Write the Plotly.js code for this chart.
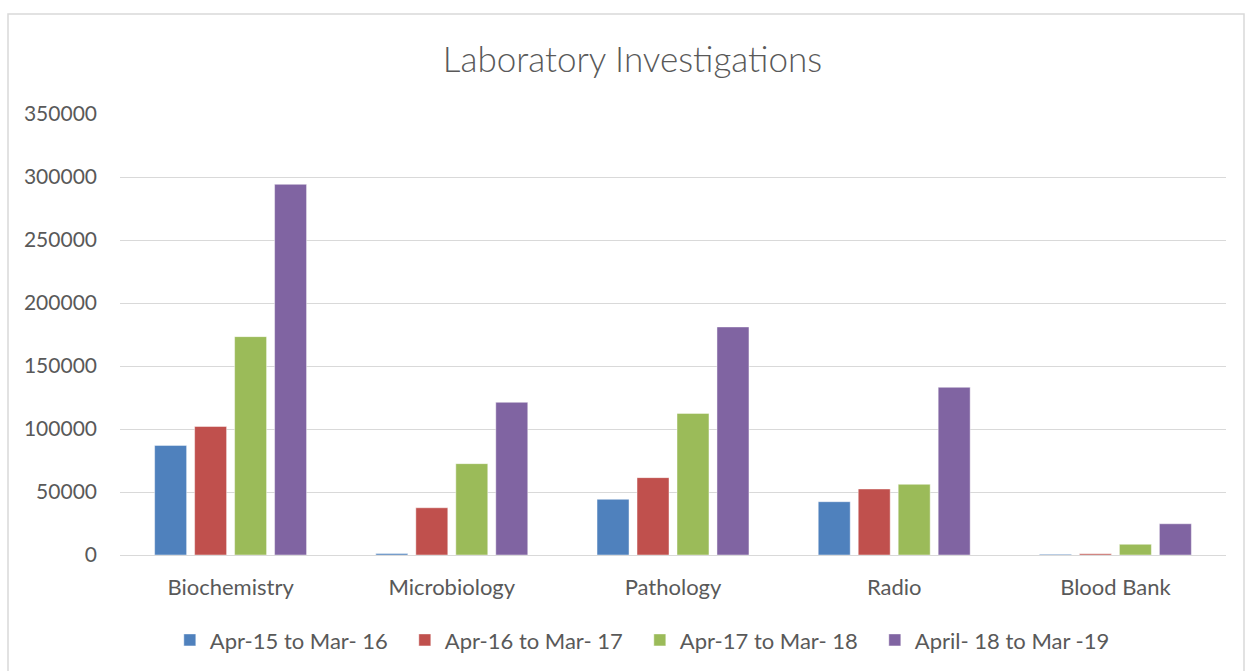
<!DOCTYPE html>
<html>
<head>
<meta charset="utf-8">
<script src="https://cdn.plot.ly/plotly-3.0.1.min.js"></script>
<style>
html,body{margin:0;padding:0;background:#fff;}
#chart{width:1245px;height:671px;}
</style>
</head>
<body>
<div id="chart"></div>
<script>
const categories = ["Biochemistry", "Microbiology", "Pathology", "Radio", "Blood Bank"];
const seriesNames = ["Apr-15 to Mar- 16", "Apr-16 to Mar- 17", "Apr-17 to Mar- 18", "April- 18 to Mar -19"];
const apr15 = [87000, 1200, 44200, 42300, 600];
const apr16 = [102000, 37500, 61400, 52400, 1000];
const apr17 = [173300, 72500, 112400, 56100, 8500];
const apr18 = [294200, 121200, 181000, 133100, 24800];
const seriesValues = [apr15, apr16, apr17, apr18];
const colors = ["#4F81BD", "#C0504D", "#9BBB59", "#8064A2"];
const yTicks = [0, 50000, 100000, 150000, 200000, 250000, 300000, 350000];

const FONT = "Lato, 'Open Sans', sans-serif";
const traces = seriesValues.map((vals, i) => ({
  type: "bar",
  name: seriesNames[i],
  x: categories,
  y: vals,
  marker: {color: colors[i], line: {color: "rgba(255,255,255,0.45)", width: 1}},
  hoverinfo: "x+y+name"
}));

const layout = {
  width: 1245,
  height: 671,
  margin: {l: 120, r: 19, t: 114, b: 116, autoexpand: false},
  paper_bgcolor: "#ffffff",
  plot_bgcolor: "#ffffff",
  font: {family: FONT, color: "#595959", size: 21},
  title: {
    text: "Laboratory Investigations",
    font: {family: FONT, size: 35, color: "#595959", weight: 300},
    x: 0.508, xanchor: "center",
    y: 0.911, yanchor: "middle"
  },
  barmode: "group",
  bargap: 0.277,
  bargroupgap: 0.2,
  xaxis: {
    type: "category",
    automargin: false,
    showgrid: false,
    showline: false,
    zeroline: false,
    ticks: "",
    tickfont: {family: FONT, size: 22, color: "#595959"},
    ticklabelstandoff: 17
  },
  yaxis: {
    automargin: false,
    range: [0, 350000],
    tickvals: yTicks,
    ticktext: yTicks.map(v => String(v)),
    showgrid: true,
    gridcolor: "#d9d9d9",
    gridwidth: 1,
    zeroline: true,
    zerolinecolor: "#d9d9d9",
    zerolinewidth: 1,
    showline: false,
    ticks: "",
    ticklabelstandoff: 22,
    tickfont: {family: FONT, size: 21, color: "#595959"}
  },
  legend: {
    orientation: "h",
    x: 0.470, xanchor: "center",
    y: -0.193, yanchor: "middle",
    font: {family: FONT, size: 22, color: "#595959"},
    itemwidth: 30,
    entrywidth: 190,
    traceorder: "normal"
  },
  shapes: [{
    type: "rect", xref: "paper", yref: "paper",
    x0: (8 - 120) / 1106, x1: (1244 - 120) / 1106,
    y0: -0.5, y1: (555 - 14) / 441,
    line: {color: "#d9d9d9", width: 1.5},
    fillcolor: "rgba(0,0,0,0)",
    layer: "below"
  }],
  showlegend: true
};

Plotly.newPlot("chart", traces, layout, {displayModeBar: false, staticPlot: false});
</script>
</body>
</html>
